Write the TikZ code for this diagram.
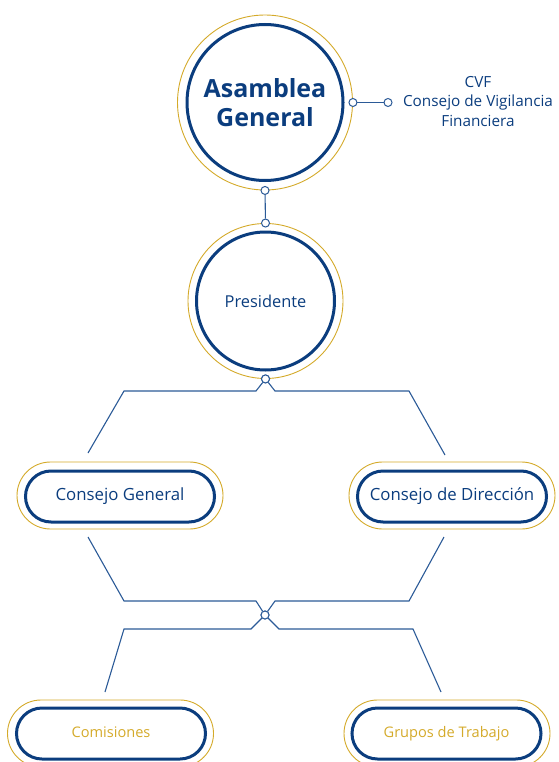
\documentclass[tikz,border=0pt]{standalone}
\usepackage{fontspec}
\setmainfont{Open Sans}
\usetikzlibrary{positioning,shapes.misc}
\definecolor{navy}{HTML}{0B3D7E}
\definecolor{gold}{HTML}{D4AA2A}
\definecolor{linkblue}{HTML}{2B5A97}
\tikzset{%
	ringin/.style   = {draw=navy, line width=3pt, circle, inner sep=0pt, text=navy},
	ringout/.style  = {draw=gold, line width=0.9pt, circle, inner sep=0pt},
	pillin/.style   = {draw=navy, line width=3pt, rounded rectangle, inner sep=0pt, minimum width=189pt, minimum height=51pt, text height=1.8ex, text depth=0.4ex, font=\fontsize{16.8}{19}\selectfont},
	pillout/.style  = {draw=gold, line width=0.9pt, rounded rectangle, inner sep=0pt, minimum width=206pt, minimum height=67pt},
	dot/.style      = {draw=linkblue, line width=1pt, fill=white, circle, inner sep=0pt, minimum size=8pt},
	link/.style     = {draw=linkblue, line width=1.1pt},
}
\begin{document}
\begin{tikzpicture}[x=1pt,y=-1pt]
	\useasboundingbox (0,0) rectangle (558,762);
	\clip (0,0) rectangle (558,762);
	
	% circles
	\node[ringout, minimum size=175pt] (agout) at (265,102.5) {};
	\node[ringin, minimum size=156pt, font=\bfseries\fontsize{25}{29}\selectfont, align=center] (ag) at (265,102.5) {Asamblea\\General};
	\node[ringout, minimum size=155pt] (presout) at (265.5,301) {};
	\node[ringin, minimum size=138pt, font=\fontsize{16.4}{19}\selectfont] (pres) at (265.5,301) {Presidente};
	
	\node[text=navy, align=center, font=\fontsize{15.3}{19.5}\selectfont] (cvf) at (478,101.5) {CVF\\Consejo de Vigilancia\\Financiera};
	
	% pills
	\node[pillout] (cgout) at (120,495.5) {};
	\node[pillin, text=navy] (cg) at (120,496.5) {Consejo General};
	\node[pillout] (cdout) at (452,495.5) {};
	\node[pillin, text=navy] (cd) at (452,496.5) {Consejo de Dirección};
	\node[pillout] (comout) at (110.5,733.5) {};
	\node[pillin, text=gold, font=\fontsize{14.6}{18}\selectfont] (com) at (111,733.5) {Comisiones};
	\node[pillout] (gtout) at (447,733.5) {};
	\node[pillin, text=gold, font=\fontsize{14.6}{18}\selectfont] (gt) at (446.5,733.5) {Grupos de Trabajo};
	
	% dots
	\node[dot] (d1) at (agout.south) {};
	\node[dot] (d2) at (presout.north) {};
	\node[dot] (d3) at (agout.east) {};
	\node[dot] (d4) at (388,102.5) {};
	\node[dot] (d5) at (presout.south) {};
	\node[dot] (d6) at (265,615) {};
	
	% links
	\draw[link] (d1) -- (d2);
	\draw[link] (d3) -- (d4);
	\coordinate (cg-n) at (88,453);
	\coordinate (cd-n) at (445,455);
	\coordinate (cg-s) at (88,537);
	\coordinate (cd-s) at (444,537);
	\coordinate (com-n) at (105,692);
	\coordinate (gt-n) at (441,692);
	\draw[link] (d5) -- (256,391) -- (124,391) -- (cg-n);
	\draw[link] (d5) -- (275,391) -- (409,391) -- (cd-n);
	\draw[link] (d6) -- (256,601) -- (124,601) -- (cg-s);
	\draw[link] (d6) -- (275,601) -- (409,601) -- (cd-s);
	\draw[link] (d6) -- (251,629) -- (124,629) -- (com-n);
	\draw[link] (d6) -- (279,629) -- (413,629) -- (gt-n);
	\node[dot] at (d6) {};
	\node[dot] at (d5) {};
\end{tikzpicture}
\end{document}
